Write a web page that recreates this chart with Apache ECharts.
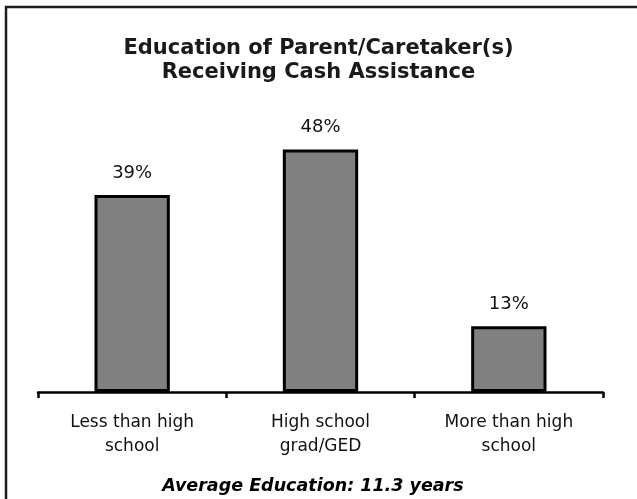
<!DOCTYPE html>
<html>
<head>
<meta charset="utf-8">
<script src="https://cdn.jsdelivr.net/npm/echarts@6/dist/echarts.min.js"></script>
<style>html,body{margin:0;padding:0;background:#fff}#c{width:637px;height:499px}</style>
</head>
<body>
<div id="c"></div>
<script>
const categories = ['Less than high\nschool', 'High school\ngrad/GED', 'More than high\nschool'];
const values = [39, 48, 13];
const titleLines = ['Education of Parent/Caretaker(s)', 'Receiving Cash Assistance'];
const footnote = 'Average Education: 11.3 years';

const chart = echarts.init(document.getElementById('c'), null, {renderer: 'canvas'});
chart.setOption({
  animation: false,
  backgroundColor: '#fff',
  title: [{
    text: titleLines.join('\n'),
    left: 'center',
    top: 32,
    textStyle: {fontFamily: 'DejaVu Sans', fontWeight: 'bold', fontSize: 21, lineHeight: 24, color: '#1a1a1a'}
  }],
  graphic: [{
    type: 'rect',
    shape: {x: 6, y: 7, width: 700, height: 600},
    style: {fill: 'none', stroke: '#1e1e1e', lineWidth: 2.5},
    silent: true
  }, {
    type: 'text',
    x: 313,
    y: 486,
    style: {
      text: footnote,
      textAlign: 'center',
      textVerticalAlign: 'middle',
      font: 'italic bold 17.5px "DejaVu Sans"',
      fill: '#000'
    },
    silent: true
  }],
  grid: {left: 38, right: 34, top: 89, bottom: 107},
  xAxis: {
    type: 'category',
    data: categories,
    axisLine: {lineStyle: {color: '#000', width: 2.5}},
    axisTick: {show: true, length: 6, lineStyle: {color: '#000', width: 2.5}},
    axisLabel: {fontFamily: 'DejaVu Sans', fontSize: 17, color: '#111', lineHeight: 24, margin: 19, interval: 0}
  },
  yAxis: {type: 'value', min: 0, max: 60, show: false, splitLine: {show: false}},
  series: [{
    type: 'bar',
    data: values,
    barWidth: '40%',
    itemStyle: {color: '#808080', borderColor: '#000', borderWidth: 3},
    label: {show: true, position: 'top', distance: 13, formatter: '{c}%', fontFamily: 'DejaVu Sans', fontSize: 18, color: '#111'}
  }]
});
</script>
</body>
</html>
